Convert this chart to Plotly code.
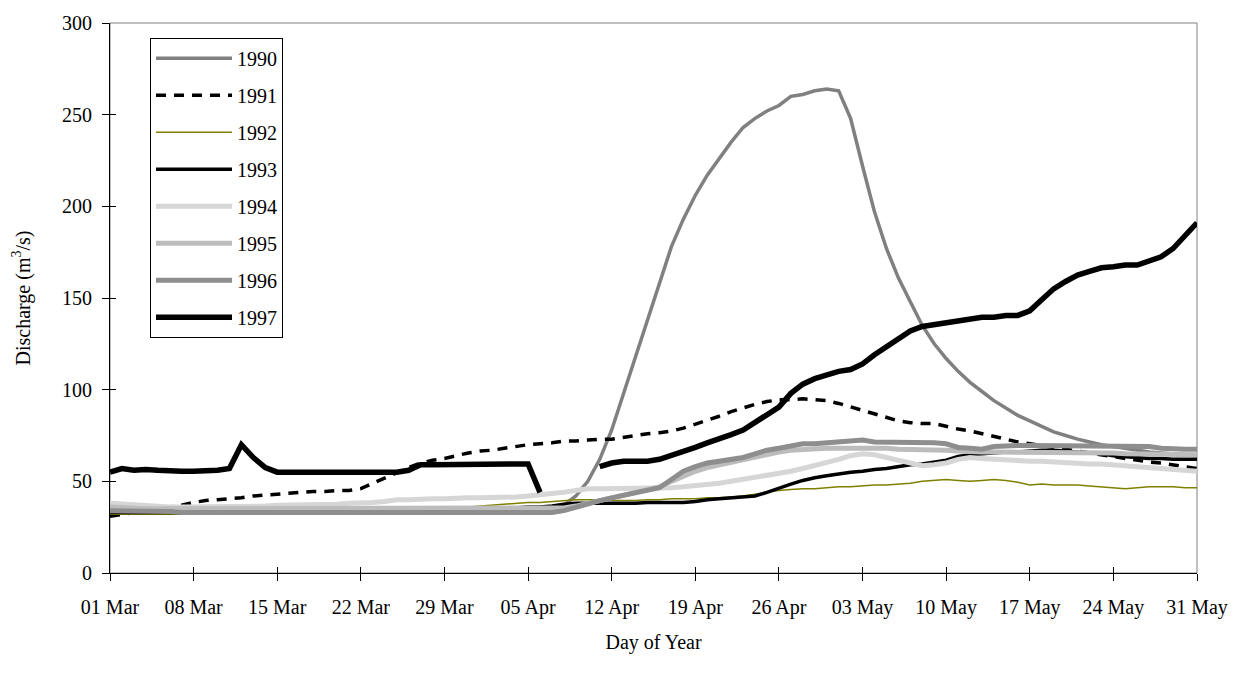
import pandas as pd
import plotly.graph_objects as go

# Daily discharge, 01 Mar - 31 May (m3/s)
days = pd.date_range("2001-03-01", "2001-05-31", freq="D")

q1990 = [35, 34, 34, 34, 33, 33, 33, 33, 33, 33,
         33, 33, 34, 34, 34, 34, 34, 34, 34, 34,
         34, 34, 34, 34, 34, 34, 34, 34, 34, 34,
         35, 35, 35, 35, 35, 35, 36, 36, 37, 42,
         50, 62, 78, 98, 117, 137, 158, 178, 193, 206,
         217, 226, 235, 243, 248, 252, 255, 260, 261, 263,
         264, 263, 248, 222, 197, 177, 161, 148, 135, 125,
         117, 110, 104, 99, 94, 90, 86, 83, 80, 77,
         75, 73, 71.5, 70, 69, 68, 67, 66, 65.5, 65,
         64.5, 64]

q1991 = [31, 32, 33, 34, 35, 36, 37, 38.5, 39.5, 40,
         40.5, 41, 42, 42.5, 43, 43.5, 44, 44.5, 44.5, 45,
         45, 46, 49, 52, 55, 57.5, 60, 61.5, 62.5, 64,
         65.5, 66.5, 67, 68, 69, 70, 70.5, 71, 72, 72,
         72.5, 73, 73, 74, 75, 76, 76.5, 77.5, 79, 81,
         83, 85.5, 88, 90, 92, 93.5, 94.5, 94.5, 95, 94.5,
         94, 92.5, 90.5, 88.5, 86.5, 84.5, 83, 82, 81.5, 81.5,
         80, 78.5, 77.5, 76, 74.5, 73, 71.5, 70.5, 69.5, 68.5,
         67.5, 66.5, 65.5, 64.5, 63.5, 62.5, 61.5, 60.5, 60, 59,
         58, 57]

q1992 = [32, 32, 32, 32, 32, 32, 32, 32, 32, 32,
         32, 32.5, 32.5, 32.5, 33, 33, 33, 33, 33, 33,
         33.5, 33.5, 34, 34, 34.5, 34.5, 35, 35, 35.5, 36,
         36, 36.5, 37, 37.5, 38, 38.5, 38.5, 39, 39.5, 40,
         40, 40, 39.5, 39.5, 39.5, 40, 40, 40.5, 40.5, 40.5,
         41, 41, 41.5, 42, 43, 44, 45, 45.5, 46, 46,
         46.5, 47, 47, 47.5, 48, 48, 48.5, 49, 50, 50.5,
         51, 50.5, 50, 50.5, 51, 50.5, 49.5, 48, 48.5, 48,
         48, 48, 47.5, 47, 46.5, 46, 46.5, 47, 47, 47,
         46.5, 46.5]

q1993 = [33, 33, 33, 33, 33, 33, 33, 33, 33, 33,
         33, 33, 33, 33, 33, 33, 33, 33, 33, 33,
         33, 33, 33, 33, 33, 33, 33, 33, 33, 33.5,
         34, 34, 34.5, 35, 35.5, 36, 36, 36.5, 37.5, 38,
         38, 38, 38, 38, 38, 38.5, 38.5, 38.5, 38.5, 39,
         40, 40.5, 41, 41.5, 42, 44, 46.5, 48.5, 50.5, 52,
         53, 54, 55, 55.5, 56.5, 57, 58, 59, 59.5, 60.5,
         61.5, 63.5, 64.5, 65, 65.5, 66, 66, 66.5, 67, 67,
         66.5, 66, 65.5, 65, 64, 63.5, 63, 62.5, 62.5, 62,
         62, 62]

q1994 = [38, 37.5, 37, 36.5, 36, 36, 36, 36, 36, 36,
         36, 36.5, 36.5, 36.5, 37, 37, 37, 37, 37.5, 37.5,
         38, 38, 38.5, 39, 40, 40, 40.5, 40.5, 40.5, 41,
         41, 41, 41, 41, 41.5, 42, 42.5, 43, 44, 45,
         46, 46, 46, 46, 46, 46.5, 46.5, 46.5, 47, 47.5,
         48, 49, 50, 51, 52, 53, 54, 55.5, 57, 58.5,
         60, 62, 64, 65, 64.5, 63, 61, 59.5, 58.5, 59,
         60, 62, 63, 62.5, 62, 61.5, 61, 61, 61, 60.5,
         60, 60, 59.5, 59.5, 59, 58.5, 58, 57.5, 57, 56.5,
         56, 55.5]

q1995 = [36, 35.5, 35.5, 35, 35, 35, 35, 35, 35, 35,
         35, 35, 35, 35, 35, 35, 35, 35, 35, 35,
         35, 35, 35, 35, 35, 35, 35, 35, 35, 35,
         35, 35, 35, 35, 35, 35, 35, 35, 35.5, 36.5,
         38, 39.5, 41, 42, 43.5, 45, 47, 50, 53, 55.5,
         57.5, 59, 60, 61.5, 63, 64.5, 66, 67, 67.5, 68,
         68, 68, 68, 68.5, 68, 68, 67.5, 67.5, 67, 67,
         67, 66.5, 66, 66, 66, 66, 66, 66, 66, 66,
         66, 66, 65.5, 65.5, 65.5, 65, 65, 65, 65, 64.5,
         64.5, 64.5]

q1996 = [34, 34, 33.5, 33.5, 33.5, 33.5, 33, 33, 33, 33,
         33, 33, 33, 33, 33, 33, 33, 33, 33, 33,
         33, 33, 33, 33, 33, 33, 33, 33, 33, 33,
         33, 33, 33, 33, 33, 33, 33, 33, 34, 36,
         38, 39.5, 41, 42.5, 44, 45, 46.5, 51, 55.5, 58,
         60, 61, 62, 63, 65, 67, 68, 69.5, 70.5, 70.5,
         71, 71.5, 71.5, 72.5, 71.5, 71.5, 71, 71, 71, 71,
         70.5, 68.5, 68, 67.5, 69, 69.5, 69.5, 69.5, 69.5, 69.5,
         69.5, 69.5, 69.5, 69.5, 69.5, 69.5, 69.5, 69, 68, 67.5,
         67.5, 67.5]

# 1997 has no record for 06-09 Apr
q1997 = [55, 57, 56, 56.5, 56, 55.5, 55.5, 55.5, 55.5, 56,
         57, 70, 63, 57.5, 55, 55, 55, 55, 55, 55,
         55, 55, 55, 55, 55, 56, 59, 59, 59, 59,
         59, 59, 59.5, 59.5, 59.5, 59.5, 44, None, None, None,
         None, 58, 60, 61, 61, 61, 62, 64, 66, 68.5,
         71, 73, 75.5, 78, 82, 86, 90.5, 98, 103, 106,
         108, 110, 111, 114, 119, 123.5, 128, 132, 134.5, 135.5,
         136.5, 137.5, 138.5, 139.5, 139.5, 140.5, 140.5, 143, 149, 155,
         159, 162.5, 164.5, 166.5, 167, 168, 168, 170, 172.5, 177,
         184, 191]

series = [
    ("1990", q1990, dict(color="#808080", width=3.5)),
    ("1991", q1991, dict(color="#000000", width=3.5, dash="10px,8px")),
    ("1992", q1992, dict(color="#808000", width=1.5)),
    ("1993", q1993, dict(color="#000000", width=3.5)),
    ("1994", q1994, dict(color="#d6d6d6", width=5)),
    ("1995", q1995, dict(color="#bcbcbc", width=5)),
    ("1996", q1996, dict(color="#8e8e8e", width=5)),
    ("1997", q1997, dict(color="#000000", width=5.5)),
]

FONT = "Liberation Serif, Times New Roman, serif"
FS = 20

fig = go.Figure()
for name, vals, line in series:
    fig.add_trace(go.Scatter(x=days, y=vals, name=name, mode="lines",
                             line=line, legendgroup=name,
                             connectgaps=False))

# empty traces that carry the inner half of the cross ticks
fig.add_trace(go.Scatter(x=[None], y=[None], xaxis="x2", yaxis="y",
                         showlegend=False, hoverinfo="skip"))
fig.add_trace(go.Scatter(x=[None], y=[None], xaxis="x", yaxis="y2",
                         showlegend=False, hoverinfo="skip"))

x_range = ["2001-03-01", "2001-05-31"]
week = 7 * 86400000

fig.update_layout(
    width=1240, height=679,
    margin=dict(l=110, r=42, t=18, b=106),
    paper_bgcolor="white", plot_bgcolor="white",
    font=dict(family=FONT, size=FS, color="black"),
    showlegend=True,
    legend=dict(x=0.0368, y=0.973, xanchor="left", yanchor="top",
                bgcolor="white", bordercolor="black", borderwidth=1,
                font=dict(family=FONT, size=FS, color="black"),
                tracegroupgap=8, itemwidth=76, traceorder="grouped"),
    xaxis=dict(type="date", range=x_range, tick0="2001-03-01", dtick=week,
               tickformat="%d %b", ticks="outside", ticklen=7,
               tickcolor="black", showline=True, linecolor="black",
               linewidth=1, showgrid=False, zeroline=False,
               ticklabelstandoff=9,
               tickfont=dict(family=FONT, size=FS),
               title=dict(text="Day of Year", standoff=16,
                          font=dict(family=FONT, size=FS))),
    xaxis2=dict(type="date", range=x_range, tick0="2001-03-01", dtick=week,
                overlaying="x", anchor="y", ticks="inside", ticklen=6,
                tickcolor="black", showticklabels=False, showline=False,
                showgrid=False, zeroline=False),
    yaxis=dict(range=[0, 300], dtick=50, ticks="outside", ticklen=7,
               tickcolor="black", showline=True, linecolor="black",
               linewidth=1, showgrid=False, zeroline=False,
               ticklabelstandoff=6,
               tickfont=dict(family=FONT, size=FS),
               title=dict(text="Discharge (m<sup>3</sup>/s)", standoff=26,
                          font=dict(family=FONT, size=FS))),
    yaxis2=dict(range=[0, 300], dtick=50, overlaying="y", anchor="x",
                ticks="inside", ticklen=6, tickcolor="black",
                showticklabels=False, showline=False, showgrid=False,
                zeroline=False),
    shapes=[dict(type="rect", xref="paper", yref="paper", x0=0, x1=1,
                 y0=0, y1=1, line=dict(color="#808080", width=1),
                 layer="below")],
)

fig.write_html("out.html")
